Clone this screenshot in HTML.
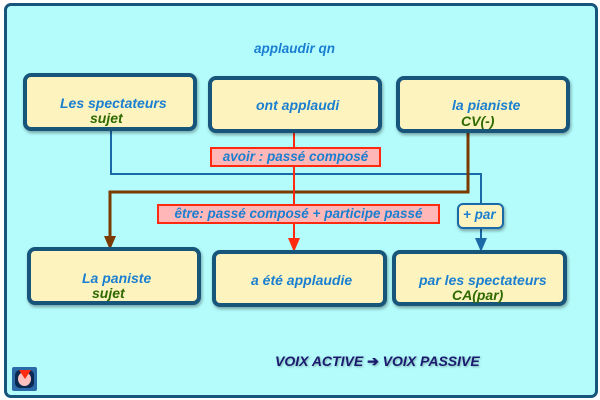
<!DOCTYPE html>
<html><head><meta charset="utf-8"><style>
body{margin:0;width:600px;height:400px;background:#fff;position:relative;overflow:hidden;font-family:"Liberation Sans",sans-serif;font-weight:bold;font-style:italic}
.frame{position:absolute;left:4px;top:3px;width:588px;height:389px;background:#b4fcfc;border:3px solid #17557a;border-radius:7px}
.box{position:absolute;background:#fdf3bf;border:4px solid #17557a;border-radius:8px;box-sizing:border-box;box-shadow:1px 2px 3px rgba(0,0,0,.35)}
.t{position:absolute;font-size:14px;color:#1a7fd0;white-space:nowrap}
.g{position:absolute;font-size:14px;color:#2e6a00;white-space:nowrap}
.lab{position:absolute;background:#ffb7b7;border:2px solid #ff2a10;box-sizing:border-box;font-size:13.5px;color:#1a7fd0;text-align:center;line-height:16px}
</style></head><body>
<div class="frame"></div>
<div class="t" style="left:254px;top:41px;font-size:13.5px">applaudir qn</div>
<svg style="position:absolute;left:0;top:0" width="600" height="400">
<polyline points="111,130 111,174 481,174 481,244" fill="none" stroke="#1a6aa8" stroke-width="2"/>
<polyline points="468,132 468,192 110,192 110,242" fill="none" stroke="#7a3a00" stroke-width="3"/>
<line x1="294" y1="132" x2="294" y2="242" stroke="#ff2a10" stroke-width="2"/>
<polygon points="104,236 116,236 110,250" fill="#7a3a00"/>
<polygon points="288,238 300,238 294,252" fill="#ff2a10"/>
<polygon points="475,238 487,238 481,252" fill="#1a6aa8"/>
</svg>
<div class="box" style="left:23px;top:73px;width:174px;height:58px"></div>
<div class="box" style="left:208px;top:76px;width:174px;height:57px"></div>
<div class="box" style="left:396px;top:76px;width:174px;height:57px"></div>
<div class="t" style="left:60px;top:95px">Les spectateurs</div>
<div class="g" style="left:90px;top:110px">sujet</div>
<div class="t" style="left:256px;top:97px">ont applaudi</div>
<div class="t" style="left:452px;top:97px">la pianiste</div>
<div class="g" style="left:461px;top:113px">CV(-)</div>
<div class="lab" style="left:210px;top:147px;width:171px;height:20px">avoir : passé composé</div>
<div class="lab" style="left:157px;top:204px;width:283px;height:20px">être: passé composé + participe passé</div>
<div class="box" style="left:457px;top:203px;width:47px;height:26px;border-width:2px;border-color:#1a6aa8;border-radius:6px"></div>
<div class="t" style="left:463px;top:207px;font-size:13.5px">+ par</div>
<div class="box" style="left:27px;top:247px;width:174px;height:58px"></div>
<div class="box" style="left:212px;top:250px;width:175px;height:57px"></div>
<div class="box" style="left:392px;top:250px;width:175px;height:56px"></div>
<div class="t" style="left:82px;top:270px">La paniste</div>
<div class="g" style="left:92px;top:285px">sujet</div>
<div class="t" style="left:251px;top:272px">a été applaudie</div>
<div class="t" style="left:419px;top:272px">par les spectateurs</div>
<div class="g" style="left:452px;top:287px">CA(par)</div>
<div style="position:absolute;left:275px;top:353px;font-size:14px;color:#1a1a6e;white-space:nowrap;text-shadow:1px 1px 2px rgba(0,0,0,.3)">VOIX ACTIVE <span style="font-style:normal">➔</span> VOIX PASSIVE</div>
<div style="position:absolute;left:12px;top:367px;width:25px;height:24px;background:#2a6aa8;border-radius:2px"></div>
<div style="position:absolute;left:15px;top:370px;width:19px;height:18px;background:#0a2850;border-radius:5px"></div>
<div style="position:absolute;left:18px;top:372px;width:13px;height:14px;background:#ffc0c0;border-radius:50%"></div>
<svg style="position:absolute;left:17px;top:368px" width="16" height="12"><polygon points="2,2 14,2 8,11" fill="#ff2a10"/></svg>
</body></html>
